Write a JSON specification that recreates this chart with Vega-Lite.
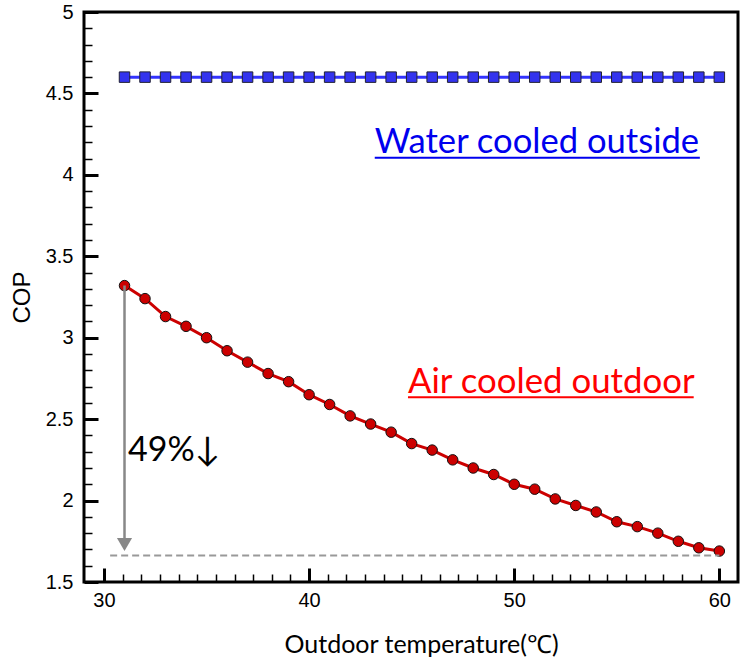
{
  "$schema": "https://vega.github.io/schema/vega-lite/v6.json",
  "width": 654,
  "height": 570,
  "autosize": {"type": "none"},
  "padding": {"left": 84, "top": 12, "right": 4, "bottom": 75},
  "background": "white",
  "config": {
    "view": {"stroke": "black", "strokeWidth": 3},
    "axis": {"grid": false, "domain": false, "labelFont": "Liberation Sans", "labelFontSize": 20, "labelColor": "black", "tickColor": "black"}
  },
  "datasets": {
    "water": [
      {"temp": 31, "cop": 4.6}, {"temp": 32, "cop": 4.6}, {"temp": 33, "cop": 4.6}, {"temp": 34, "cop": 4.6}, {"temp": 35, "cop": 4.6},
      {"temp": 36, "cop": 4.6}, {"temp": 37, "cop": 4.6}, {"temp": 38, "cop": 4.6}, {"temp": 39, "cop": 4.6}, {"temp": 40, "cop": 4.6},
      {"temp": 41, "cop": 4.6}, {"temp": 42, "cop": 4.6}, {"temp": 43, "cop": 4.6}, {"temp": 44, "cop": 4.6}, {"temp": 45, "cop": 4.6},
      {"temp": 46, "cop": 4.6}, {"temp": 47, "cop": 4.6}, {"temp": 48, "cop": 4.6}, {"temp": 49, "cop": 4.6}, {"temp": 50, "cop": 4.6},
      {"temp": 51, "cop": 4.6}, {"temp": 52, "cop": 4.6}, {"temp": 53, "cop": 4.6}, {"temp": 54, "cop": 4.6}, {"temp": 55, "cop": 4.6},
      {"temp": 56, "cop": 4.6}, {"temp": 57, "cop": 4.6}, {"temp": 58, "cop": 4.6}, {"temp": 59, "cop": 4.6}, {"temp": 60, "cop": 4.6}
    ],
    "air": [
      {"temp": 31, "cop": 3.32}, {"temp": 32, "cop": 3.24}, {"temp": 33, "cop": 3.13}, {"temp": 34, "cop": 3.07}, {"temp": 35, "cop": 3.0},
      {"temp": 36, "cop": 2.92}, {"temp": 37, "cop": 2.85}, {"temp": 38, "cop": 2.78}, {"temp": 39, "cop": 2.73}, {"temp": 40, "cop": 2.65},
      {"temp": 41, "cop": 2.59}, {"temp": 42, "cop": 2.52}, {"temp": 43, "cop": 2.47}, {"temp": 44, "cop": 2.42}, {"temp": 45, "cop": 2.35},
      {"temp": 46, "cop": 2.31}, {"temp": 47, "cop": 2.25}, {"temp": 48, "cop": 2.2}, {"temp": 49, "cop": 2.16}, {"temp": 50, "cop": 2.1},
      {"temp": 51, "cop": 2.07}, {"temp": 52, "cop": 2.01}, {"temp": 53, "cop": 1.97}, {"temp": 54, "cop": 1.93}, {"temp": 55, "cop": 1.87},
      {"temp": 56, "cop": 1.84}, {"temp": 57, "cop": 1.8}, {"temp": 58, "cop": 1.75}, {"temp": 59, "cop": 1.71}, {"temp": 60, "cop": 1.69}
    ]
  },
  "resolve": {"axis": {"x": "independent", "y": "independent"}},
  "layer": [
    {
      "data": {"name": "water"},
      "mark": {"type": "line", "color": "#3333ff", "strokeWidth": 3},
      "encoding": {
        "x": {"field": "temp", "type": "quantitative", "scale": {"domain": [29.025, 60.91], "nice": false, "zero": false},
          "axis": {"orient": "bottom", "values": [30, 40, 50, 60], "tickSize": -14, "tickWidth": 3, "labelPadding": 22,
            "title": "Outdoor temperature(℃)", "titleFont": "Lato", "titleFontSize": 25, "titleFontWeight": "normal", "titleColor": "black",
            "titleX": 337, "titleY": 70, "titleBaseline": "alphabetic", "titleAnchor": "middle"}},
        "y": {"field": "cop", "type": "quantitative", "scale": {"domain": [1.5, 5], "nice": false, "zero": false},
          "axis": {"orient": "left", "values": [1.5, 2, 2.5, 3, 3.5, 4, 4.5, 5], "format": "~g", "tickSize": -14, "tickWidth": 3, "labelPadding": 25,
            "title": "COP", "titleFont": "Liberation Sans", "titleFontSize": 24, "titleFontWeight": "normal", "titleColor": "black",
            "titleX": -62, "titleY": 285, "titleBaseline": "middle", "titleAngle": -90, "titleAnchor": "middle"}}
      }
    },
    {
      "data": {"name": "water"},
      "mark": {"type": "point", "shape": "square", "filled": true, "fill": "#3333ee", "stroke": "#222233", "strokeWidth": 1, "size": 110, "opacity": 1},
      "encoding": {
        "x": {"field": "temp", "type": "quantitative",
          "axis": {"orient": "bottom", "values": [30.909, 31.818, 32.727, 33.636, 34.545, 35.455, 36.364, 37.273, 38.182, 39.091, 40.909, 41.818, 42.727, 43.636, 44.545, 45.455, 46.364, 47.273, 48.182, 49.091, 50.909, 51.818, 52.727, 53.636, 54.545, 55.455, 56.364, 57.273, 58.182, 59.091],
            "tickSize": -8, "tickWidth": 1.5, "labels": false, "title": null}},
        "y": {"field": "cop", "type": "quantitative",
          "axis": {"orient": "left", "values": [1.6, 1.7, 1.8, 1.9, 2.1, 2.2, 2.3, 2.4, 2.6, 2.7, 2.8, 2.9, 3.1, 3.2, 3.3, 3.4, 3.6, 3.7, 3.8, 3.9, 4.1, 4.2, 4.3, 4.4, 4.6, 4.7, 4.8, 4.9],
            "tickSize": -8, "tickWidth": 1.5, "labels": false, "title": null}}
      }
    },
    {
      "data": {"name": "air"},
      "mark": {"type": "line", "color": "#cc0000", "strokeWidth": 3},
      "encoding": {
        "x": {"field": "temp", "type": "quantitative", "axis": null},
        "y": {"field": "cop", "type": "quantitative", "axis": null}
      }
    },
    {
      "data": {"name": "air"},
      "mark": {"type": "point", "shape": "circle", "filled": true, "fill": "#cc0000", "stroke": "#111111", "strokeWidth": 1, "size": 110, "opacity": 1},
      "encoding": {
        "x": {"field": "temp", "type": "quantitative", "axis": null},
        "y": {"field": "cop", "type": "quantitative", "axis": null}
      }
    },
    {
      "data": {"values": [{}]},
      "mark": {"type": "rule", "color": "#888888", "strokeWidth": 2.5},
      "encoding": {
        "x": {"datum": 31, "type": "quantitative", "axis": null},
        "y": {"datum": 3.32, "type": "quantitative", "axis": null},
        "y2": {"datum": 1.75}
      }
    },
    {
      "data": {"values": [{}]},
      "mark": {"type": "point", "shape": "triangle-down", "filled": true, "color": "#888888", "size": 230, "opacity": 1},
      "encoding": {
        "x": {"datum": 31, "type": "quantitative", "axis": null},
        "y": {"datum": 1.73, "type": "quantitative", "axis": null}
      }
    },
    {
      "data": {"values": [{}]},
      "mark": {"type": "rule", "color": "#999999", "strokeWidth": 2, "strokeDash": [7, 4]},
      "encoding": {
        "x": {"datum": 30.3, "type": "quantitative", "axis": null},
        "x2": {"datum": 60},
        "y": {"datum": 1.662, "type": "quantitative", "axis": null}
      }
    },
    {
      "data": {"values": [{}]},
      "mark": {"type": "text", "text": "Water cooled outside", "font": "Lato", "fontSize": 34.6, "color": "#0000ee", "align": "left", "baseline": "alphabetic"},
      "encoding": {
        "x": {"datum": 43.2, "type": "quantitative", "axis": null},
        "y": {"datum": 4.134, "type": "quantitative", "axis": null}
      }
    },
    {
      "data": {"values": [{}]},
      "mark": {"type": "rule", "color": "#0000ee", "strokeWidth": 2},
      "encoding": {
        "x": {"datum": 43.2, "type": "quantitative", "axis": null},
        "x2": {"datum": 59.05},
        "y": {"datum": 4.105, "type": "quantitative", "axis": null}
      }
    },
    {
      "data": {"values": [{}]},
      "mark": {"type": "text", "text": "Air cooled outdoor", "font": "Lato", "fontSize": 34.8, "color": "#ff0000", "align": "left", "baseline": "alphabetic"},
      "encoding": {
        "x": {"datum": 44.82, "type": "quantitative", "axis": null},
        "y": {"datum": 2.661, "type": "quantitative", "axis": null}
      }
    },
    {
      "data": {"values": [{}]},
      "mark": {"type": "rule", "color": "#ff0000", "strokeWidth": 2},
      "encoding": {
        "x": {"datum": 44.82, "type": "quantitative", "axis": null},
        "x2": {"datum": 58.75},
        "y": {"datum": 2.634, "type": "quantitative", "axis": null}
      }
    },
    {
      "data": {"values": [{}]},
      "mark": {"type": "text", "text": "49%↓", "font": "Lato", "fontSize": 34, "color": "black", "align": "left", "baseline": "alphabetic"},
      "encoding": {
        "x": {"datum": 31.17, "type": "quantitative", "axis": null},
        "y": {"datum": 2.243, "type": "quantitative", "axis": null}
      }
    }
  ]
}
